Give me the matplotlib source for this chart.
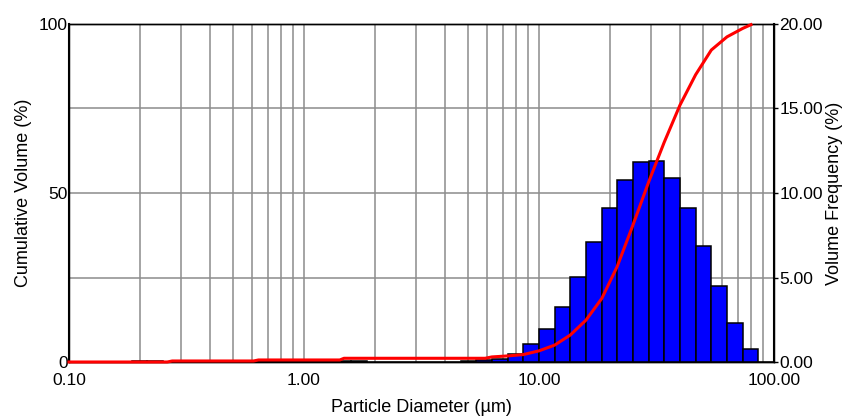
import numpy as np
import matplotlib
matplotlib.use("Agg")
import matplotlib.pyplot as plt
from matplotlib.ticker import FixedLocator, NullFormatter

plt.rcParams['font.family'] = ['Liberation Sans', 'DejaVu Sans']

# Bin edges: 15 bins per decade from 0.1 to 100 um
bin_edges = [0.1 * 10 ** (k / 15) for k in range(46)]

# Volume frequency (%) per bin
freq = [0.0, 0.0, 0.0, 0.0, 0.05, 0.05, 0.0, 0.0, 0.0, 0.0,
        0.0, 0.0, 0.07, 0.07, 0.07, 0.07, 0.07, 0.07, 0.07, 0.0,
        0.0, 0.0, 0.0, 0.0, 0.0, 0.08, 0.10, 0.18, 0.47, 1.05,
        1.95, 3.27, 5.05, 7.08, 9.13, 10.79, 11.82, 11.91, 10.87, 9.13,
        6.88, 4.50, 2.33, 0.75, 0.02]

# Cumulative volume (%) curve
cum_d = [0.10, 0.262, 0.275, 0.61, 0.64, 1.42, 1.48, 5.9, 6.3, 7.36, 8.58,
         10.0, 11.66, 13.6, 15.85, 18.5, 21.5, 25.1, 29.3, 34.1, 39.8,
         46.4, 54.1, 63.1, 73.6, 79.8]
cum_v = [0.0, 0.0, 0.3, 0.3, 0.6, 0.6, 1.1, 1.1, 1.5, 1.8, 2.2,
         3.3, 5.0, 8.0, 12.4, 18.8, 28.2, 40.5, 53.3, 65.0, 76.0,
         85.0, 92.3, 96.2, 98.7, 99.8]

x_ticks = [0.1, 1, 10, 100]
x_labels = ['0.10', '1.00', '10.00', '100.00']
left_ticks = [0, 50, 100]
right_ticks = [0, 5, 10, 15, 20]
right_labels = ['0.00', '5.00', '10.00', '15.00', '20.00']

fig = plt.figure(figsize=(8.48, 4.19), dpi=100)
ax = fig.add_axes([69 / 848, 57 / 419, 705 / 848, 338 / 419])
ax2 = ax.twinx()

edges = np.array(bin_edges)
ax2.bar(edges[:-1], freq, width=np.diff(edges), align='edge',
        color='#0000FF', edgecolor='black', linewidth=1.1, zorder=3)
ax2.set_ylim(0, 20)
ax2.set_xscale('log')
ax2.set_xlim(0.1, 100)

# grid on the frequency axis (behind bars)
grid_x = [m * 10.0 ** e for e in range(-1, 2) for m in range(1, 10)] + [100]
ax2.xaxis.set_minor_locator(FixedLocator(grid_x))
ax2.set_axisbelow(True)
for g in grid_x[1:-1]:
    ax2.axvline(g, color='#8c8c8c', linewidth=1.1, zorder=0)
for g in [5, 10, 15]:
    ax2.axhline(g, color='#8c8c8c', linewidth=1.1, zorder=0)

ax2.set_yticks(right_ticks)
ax2.set_yticklabels(right_labels)
ax2.set_ylabel('Volume Frequency (%)', fontsize=13, labelpad=2)

ax.plot(cum_d, cum_v, color='#FF0000', linewidth=2.2, zorder=5, clip_on=False)
ax.set_xscale('log')
ax.set_xlim(0.1, 100)
ax.set_ylim(0, 100)
ax.set_yticks(left_ticks)
ax.set_xticks(x_ticks)
ax.set_xticklabels(x_labels)
ax.xaxis.set_minor_formatter(NullFormatter())
ax.tick_params(axis='x', which='both', length=0, pad=8, labelsize=12.5)
ax.tick_params(axis='y', length=0, pad=1, labelsize=12.5)
ax2.tick_params(axis='y', length=3, width=1, pad=1, labelsize=12.5)
ax2.tick_params(axis='x', which='both', length=0)
ax.set_ylabel('Cumulative Volume (%)', fontsize=13, labelpad=5)
ax.set_xlabel('Particle Diameter (\u00b5m)', fontsize=13, labelpad=8)

ax.set_zorder(ax2.get_zorder() + 1)
ax.patch.set_visible(False)

for a in (ax, ax2):
    for s in a.spines.values():
        s.set_color('black')
        s.set_linewidth(1.0)
ax.spines['left'].set_linewidth(1.5)
ax2.spines['right'].set_linewidth(1.5)

fig.savefig('out.png', dpi=100)
